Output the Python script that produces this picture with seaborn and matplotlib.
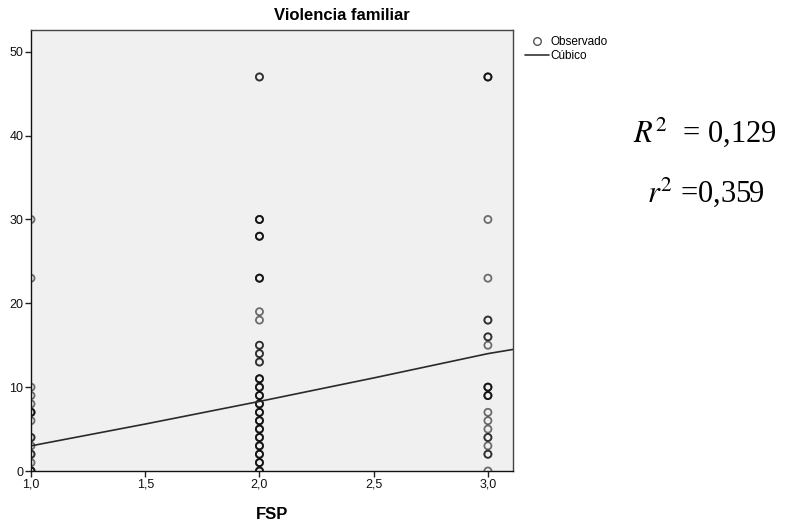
import numpy as np
import pandas as pd
import matplotlib
import matplotlib.pyplot as plt
import seaborn as sns
from matplotlib.lines import Line2D

matplotlib.use('Agg')

fsp1_vals = [30, 23, 10, 9, 8, 7, 6, 4, 3, 2, 1, 0]
fsp1_counts = [1, 1, 1, 1, 1, 3, 1, 2, 1, 2, 1, 3]
fsp2_vals = [47, 30, 28, 23, 19, 18, 15, 14, 13, 11, 10, 9, 8, 7, 6, 5, 4, 3, 2, 1, 0]
fsp2_counts = [2, 3, 3, 3, 1, 1, 2, 2, 2, 3, 3, 3, 3, 3, 3, 3, 3, 3, 3, 3, 3]
fsp3_vals = [47, 30, 23, 18, 16, 15, 10, 9, 7, 6, 5, 4, 3, 2, 0]
fsp3_counts = [3, 1, 1, 2, 2, 1, 3, 3, 1, 1, 1, 2, 1, 2, 1]

# Cubic fit curve
curve_x = [1.0, 1.5, 2.0, 2.5, 3.0, 3.11]
curve_y = [3.0, 5.6, 8.3, 11.1, 14.0, 14.5]

rows = []
for fsp, vals, counts in [(1.0, fsp1_vals, fsp1_counts),
                          (2.0, fsp2_vals, fsp2_counts),
                          (3.0, fsp3_vals, fsp3_counts)]:
    for v, c in zip(vals, counts):
        rows += [(fsp, v)] * c
df = pd.DataFrame(rows, columns=['FSP', 'Violencia'])

sns.set_style('ticks')
plt.rcParams['font.family'] = ['Liberation Sans', 'DejaVu Sans']
plt.rcParams['mathtext.fontset'] = 'stix'
plt.rcParams['text.color'] = 'black'
plt.rcParams['xtick.labelcolor'] = '#111111'
plt.rcParams['ytick.labelcolor'] = '#111111'

fig = plt.figure(figsize=(7.87, 5.22), dpi=100)
ax = fig.add_axes([0.0394, 0.0977, 0.6125, 0.8448])
ax.set_facecolor('#f0f0f0')

sns.scatterplot(data=df, x='FSP', y='Violencia', ax=ax, marker='o', s=26,
                facecolors='none', edgecolor='black', linewidth=1.3, alpha=0.55,
                legend=False)
sns.lineplot(x=curve_x, y=curve_y, ax=ax, color='#2a2a2a', linewidth=1.2)

ax.set_xlim(1.0, 3.11)
ax.set_ylim(0, 52.6)
ax.set_xticks([1.0, 1.5, 2.0, 2.5, 3.0])
ax.set_xticklabels(['1,0', '1,5', '2,0', '2,5', '3,0'])
ax.set_yticks([0, 10, 20, 30, 40, 50])
ax.tick_params(axis='both', labelsize=9, length=4.5, width=1, color='#222222', pad=1)
for s in ax.spines.values():
    s.set_color('#444444')
    s.set_linewidth(1.0)
ax.spines['left'].set_color('#111111')
ax.spines['bottom'].set_color('#111111')

ax.set_xlabel('FSP', fontsize=12, fontweight='bold', labelpad=12, color='black')
ax.set_ylabel('')
fig.text(0.4346, 0.971, 'Violencia familiar', fontsize=12, fontweight='bold',
         ha='center', va='center')

handles = [Line2D([], [], marker='o', linestyle='none', markerfacecolor='none',
                  markeredgecolor='#555555', markersize=5.5),
           Line2D([], [], color='#333333', linewidth=1.2)]
fig.legend(handles, ['Observado', 'Cúbico'], loc='upper left',
           bbox_to_anchor=(0.660, 0.942), frameon=False, fontsize=8.5,
           handlelength=2.0, handletextpad=0.1, labelspacing=0.15, borderpad=0)

fig.text(0.896, 0.747, r'$R^2$  = 0,129', fontsize=22, ha='center', va='center',
         family='Liberation Serif')
fig.text(0.897, 0.632, r'$r^2$ =0,359', fontsize=22, ha='center', va='center',
         family='Liberation Serif')

fig.savefig('out.png', dpi=100)
